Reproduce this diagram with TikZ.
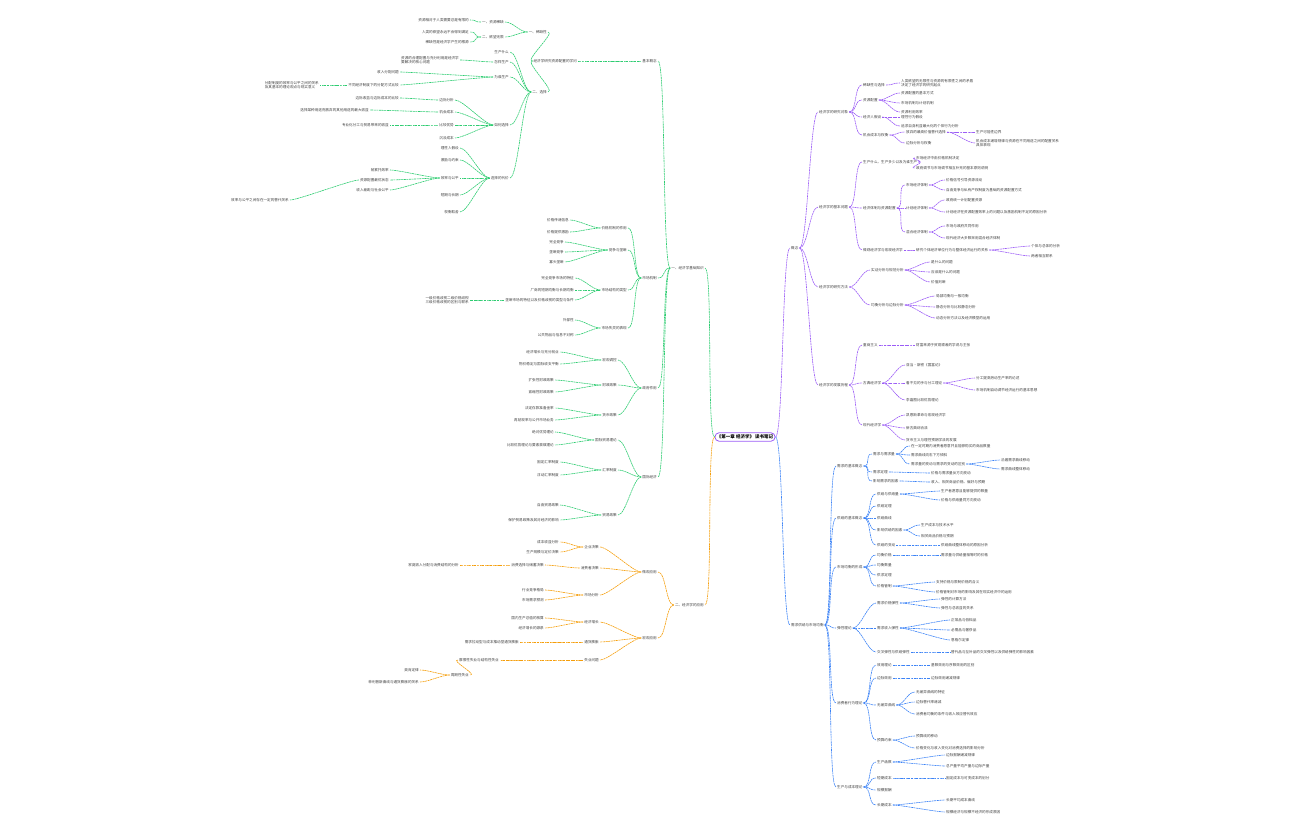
\documentclass[tikz,border=0pt]{standalone}
\usepackage{fontspec}
\setmainfont{Noto Sans CJK SC}
\begin{document}
\begin{tikzpicture}[x=1pt,y=-1pt,
  lf/.style={inner sep=1pt,font=\fontsize{3.6}{4.4}\selectfont,text=black!75,align=left},
  cn/.style={line width=0.6pt,dash pattern=on 2pt off 0.6pt}]
\definecolor{cp}{HTML}{9B5CF6}\definecolor{cb}{HTML}{3B82F6}
\definecolor{cg}{HTML}{2ECC71}\definecolor{co}{HTML}{F59E0B}
\useasboundingbox (0,0) rectangle (1296,840);
\newcommand\Rn[5]{\node[lf,anchor=west] (#2) at (#3,#4) {#5};
  \draw[cn] (#1.east) .. controls +(8,0) and +(-8,0) .. (#2.west);}
\newcommand\Ln[5]{\node[lf,anchor=east] (#2) at (#3,#4) {#5};
  \draw[cn] (#1.west) .. controls +(-8,0) and +(8,0) .. (#2.east);}
\newcommand\Rs[3]{\foreach \yy/\tt [count=\i] in {#3}{\Rn{#1}{#1-\i}{#2}{\yy}{\tt}}}
\newcommand\Ls[3]{\foreach \yy/\tt [count=\i] in {#3}{\Ln{#1}{#1-\i}{#2}{\yy}{\tt}}}

\node[draw=cp,rounded corners=4pt,line width=0.8pt,inner sep=2pt,font=\fontsize{4.5}{5}\selectfont\bfseries] (root) at (745,437) {《第一章 经济学》 读书笔记};

% ===== purple =====
\begin{scope}[cn/.append style={draw=cp}]
\Rn{root}{P}{790}{248}{概念}
\Rn{P}{Pa}{818}{112}{经济学的研究对象}
\Rn{P}{Pb}{818}{207}{经济学的基本问题}
\Rn{P}{Pc}{818}{287}{经济学的研究方法}
\Rn{P}{Pd}{818}{385}{经济学的发展历程}
\Rs{Pa}{862}{85/稀缺性与选择,100/资源配置,117/经济人假设,135/机会成本与权衡}
\Rs{Pa-1}{900}{83/人类欲望的无限性与资源的有限性之间的矛盾\\决定了经济学的研究起点}
\Rs{Pa-2}{900}{93/资源配置的基本方式,103/市场机制与计划机制,112/资源利用效率}
\Rs{Pa-3}{900}{117/理性行为假设,126/追求自身利益最大化的个体行为分析}
\Rs{Pa-4}{905}{132/放弃的最高价值替代选择,143/边际分析与权衡}
\Rs{Pa-4-1}{975}{132/生产可能性边界,143/机会成本递增规律与资源在不同用途之间的配置关系\\具体表现}
\Rs{Pb}{862}{162/生产什么、生产多少以及为谁生产,208/经济体制与资源配置,250/微观经济学与宏观经济学}
\Rs{Pb-1}{915}{158/市场经济中由价格机制决定,168/政府调节与市场调节相互补充的基本原则说明}
\Rs{Pb-2}{905}{185/市场经济体制,208/计划经济体制,232/混合经济体制}
\Rs{Pb-2-1}{945}{180/价格信号引导资源流动,190/自由竞争与私有产权制度为基础的资源配置方式}
\Rs{Pb-2-2}{945}{200/政府统一计划配置资源,212/计划经济在资源配置效率上的问题以及激励机制不足的原因分析}
\Rs{Pb-2-3}{945}{226/市场与政府共同作用,238/现代经济大多数采用混合经济体制}
\Rs{Pb-3}{915}{250/研究个体经济单位行为与整体经济运行的关系}
\Rs{Pb-3-1}{1030}{246/个体与总体的分析,256/两者相互联系}
\Rs{Pc}{870}{270/实证分析与规范分析,305/均衡分析与边际分析}
\Rs{Pc-1}{930}{262/是什么的问题,272/应该是什么的问题,282/价值判断}
\Rs{Pc-2}{935}{296/局部均衡与一般均衡,307/静态分析与比较静态分析,318/动态分析方法以及经济模型的运用}
\Rs{Pd}{862}{345/重商主义,383/古典经济学,425/现代经济学}
\Rs{Pd-1}{915}{345/财富来源于贸易顺差的学说与主张}
\Rs{Pd-2}{905}{365/亚当·斯密《国富论》,383/看不见的手与分工理论,400/李嘉图比较优势理论}
\Rs{Pd-2-2}{975}{378/分工提高劳动生产率的论述,390/市场机制自动调节经济运行的基本思想}
\Rs{Pd-3}{905}{415/凯恩斯革命与宏观经济学,428/新古典综合派,440/货币主义与理性预期学派的发展}
\end{scope}

% ===== blue =====
\begin{scope}[cn/.append style={draw=cb}]
\Rn{root}{B}{790}{625}{需求供给与市场均衡}
\Rn{B}{Ba}{836}{466}{需求的基本概念}
\Rn{B}{Bb}{836}{518}{供给的基本概念}
\Rn{B}{Bc}{836}{567}{市场均衡的形成}
\Rn{B}{Bd}{836}{628}{弹性理论}
\Rn{B}{Be}{836}{703}{消费者行为理论}
\Rn{B}{Bf}{836}{787}{生产与成本理论}
\Rs{Ba}{872}{454/需求与需求量,472/需求定理,481/影响需求的因素}
\Rs{Ba-1}{910}{446/在一定时期内消费者愿意并且能够购买的商品数量,455/需求曲线向右下方倾斜,464/需求量的变动与需求的变动的区别}
\Rs{Ba-1-3}{1000}{460/沿着需求曲线移动,469/需求曲线整体移动}
\Rs{Ba-2}{930}{473/价格与需求量反方向变动}
\Rs{Ba-3}{930}{482/收入、相关商品价格、偏好与预期}
\Rs{Bb}{876}{494/供给与供给量,506/供给定理,518/供给曲线,530/影响供给的因素,545/供给的变动}
\Rs{Bb-1}{940}{491/生产者愿意且能够提供的数量,500/价格与供给量同方向变动}
\Rs{Bb-4}{920}{525/生产成本与技术水平,536/相关商品价格与预期}
\Rs{Bb-5}{940}{545/供给曲线整体移动的原因分析}
\Rs{Bc}{876}{555/均衡价格,565/均衡数量,575/供求定理,586/价格管制}
\Rs{Bc-1}{940}{555/需求量与供给量相等时的价格}
\Rs{Bc-4}{935}{582/支持价格与限制价格的含义,592/价格管制对市场的影响及其在现实经济中的运用}
\Rs{Bd}{876}{603/需求价格弹性,628/需求收入弹性,652/交叉弹性与供给弹性}
\Rs{Bd-1}{940}{599/弹性的计算方法,608/弹性与总收益的关系}
\Rs{Bd-2}{950}{620/正常品与低档品,630/必需品与奢侈品,640/恩格尔定律}
\Rs{Bd-3}{950}{652/替代品与互补品的交叉弹性以及供给弹性的影响因素}
\Rs{Be}{876}{665/效用理论,678/边际效用,705/无差异曲线,740/预算约束}
\Rs{Be-1}{930}{665/基数效用与序数效用的区别}
\Rs{Be-2}{930}{678/边际效用递减规律}
\Rs{Be-3}{915}{692/无差异曲线的特征,702/边际替代率递减,714/消费者均衡的条件与收入效应替代效应}
\Rs{Be-4}{915}{736/预算线的移动,748/价格变化与收入变化对消费选择的影响分析}
\Rs{Bf}{876}{762/生产函数,778/短期成本,790/规模报酬,805/长期成本}
\Rs{Bf-1}{945}{755/边际报酬递减规律,766/总产量平均产量与边际产量}
\Rs{Bf-2}{945}{778/固定成本与可变成本的划分}
\Rs{Bf-4}{945}{800/长期平均成本曲线,812/规模经济与规模不经济的形成原因}
\end{scope}

% ===== green =====
\begin{scope}[cn/.append style={draw=cg}]
\Ln{root}{G}{705}{268}{一、经济学基础知识}
\Ln{G}{Ga}{658}{61}{基本概念}
\Ln{G}{Gb}{658}{278}{市场机制}
\Ln{G}{Gc}{658}{388}{政府作用}
\Ln{G}{Gd}{658}{477}{国际经济}
\Ln{Ga}{Ga1}{578}{61}{经济学研究资源配置的学问}
\Ln{Ga1}{Ga2}{548}{32}{一、稀缺性}
\Ln{Ga1}{Ga3}{548}{92}{二、选择}
\Ls{Ga2}{505}{22/一、资源稀缺,37/二、欲望无限}
\Ls{Ga2-1}{470}{20/资源相对于人类需要总是有限的}
\Ls{Ga2-2}{470}{32/人类的欲望永远不会得到满足,42/稀缺性是经济学产生的根源}
\Ls{Ga3}{510}{52/生产什么,62/怎样生产,77/为谁生产,125/如何选择,178/选择的代价}
\Ls{Ga3-2}{460}{60/资源的合理配置与充分利用是经济学\\要解决的核心问题}
\Ls{Ga3-3}{400}{72/收入分配问题,85/不同经济制度下的分配方式比较}
\Ls{Ga3-3-2}{320}{85/分配制度的效率与公平之间的关系\\及其基本的理论观点与现实意义}
\Ls{Ga3-4}{455}{100/边际分析,112/机会成本,125/比较优势,138/沉没成本}
\Ls{Ga3-4-1}{400}{98/边际收益与边际成本的比较}
\Ls{Ga3-4-2}{370}{110/选择某种用途而放弃的其他用途的最大收益}
\Ls{Ga3-4-3}{390}{125/专业化分工与贸易带来的收益}
\Ls{Ga3-5}{460}{148/理性人假设,160/激励与约束,178/效率与公平,195/短期与长期,212/权衡取舍}
\Ls{Ga3-5-3}{390}{170/帕累托效率,180/资源配置最优状态,190/收入差距与社会公平}
\Ls{Ga3-5-3-2}{290}{200/效率与公平之间存在一定的替代关系}
\Ls{Gb}{628}{228/价格机制的作用,250/竞争与垄断,290/市场结构的类型,328/市场失灵的表现}
\Ls{Gb-1}{570}{220/价格传递信息,232/价格提供激励}
\Ls{Gb-2}{565}{242/完全竞争,252/垄断竞争,262/寡头垄断}
\Ls{Gb-3}{575}{278/完全竞争市场的特征,290/厂商的短期均衡与长期均衡,300/垄断市场的特征以及价格歧视的类型与条件}
\Ls{Gb-3-3}{470}{300/一级价格歧视二级价格歧视\\三级价格歧视的区别与联系}
\Ls{Gb-4}{575}{320/外部性,335/公共物品与信息不对称}
\Ls{Gc}{618}{360/宏观调控,385/财政政策,415/货币政策}
\Ls{Gc-1}{560}{352/经济增长与充分就业,364/物价稳定与国际收支平衡}
\Ls{Gc-2}{555}{380/扩张性财政政策,392/紧缩性财政政策}
\Ls{Gc-3}{555}{408/法定存款准备金率,420/再贴现率与公开市场业务}
\Ls{Gd}{618}{440/国际贸易理论,470/汇率制度,515/贸易政策}
\Ls{Gd-1}{555}{432/绝对优势理论,445/比较优势理论与要素禀赋理论}
\Ls{Gd-2}{560}{462/固定汇率制度,475/浮动汇率制度}
\Ls{Gd-3}{560}{505/自由贸易政策,520/保护贸易政策及其对经济的影响}
\end{scope}

% ===== orange =====
\begin{scope}[cn/.append style={draw=co}]
\Ln{root}{O}{705}{605}{二、经济学的应用}
\Ln{O}{Oa}{658}{572}{微观应用}
\Ln{O}{Ob}{658}{638}{宏观应用}
\Ls{Oa}{600}{547/企业决策,568/消费者决策,595/市场分析}
\Ls{Oa-1}{560}{542/成本收益分析,552/生产规模与定价决策}
\Ls{Oa-2}{545}{565/消费选择与储蓄决策}
\Ls{Oa-2-1}{460}{565/家庭收入分配与消费结构的分析}
\Ls{Oa-3}{545}{590/行业竞争格局,600/市场需求预测}
\Ls{Ob}{600}{622/经济增长,642/通货膨胀,660/失业问题}
\Ls{Ob-1}{545}{618/国内生产总值的核算,628/经济增长的源泉}
\Ls{Ob-2}{520}{642/需求拉动型与成本推动型通货膨胀}
\Ls{Ob-3}{500}{660/摩擦性失业与结构性失业}
\Ls{Ob-3-1}{470}{675/周期性失业}
\Ls{Ob-3-1-1}{420}{670/奥肯定律,682/菲利普斯曲线与通货膨胀的关系}
\end{scope}
\end{tikzpicture}
\end{document}
